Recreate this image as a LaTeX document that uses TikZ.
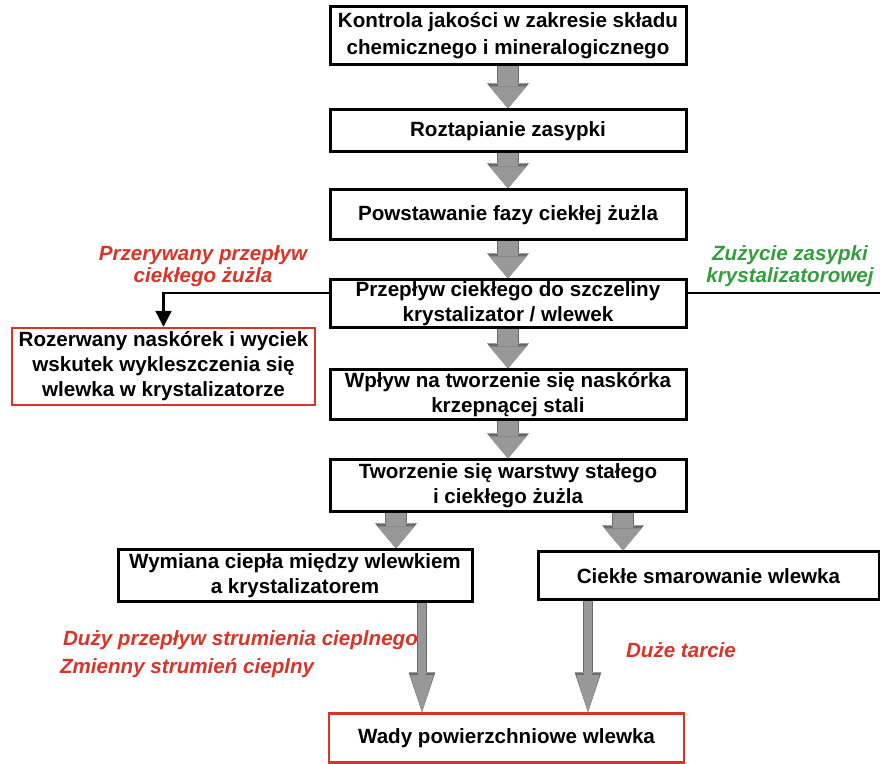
\documentclass[tikz,border=0pt]{standalone}
\usepackage{fontspec}
\setmainfont{Liberation Sans}
\usepackage{tikz}
\usetikzlibrary{positioning, calc, arrows.meta}

\definecolor{slagred}{RGB}{218,52,40}
\definecolor{wornGreen}{RGB}{52,158,62}
\definecolor{arrowgray}{RGB}{152,152,152}
\definecolor{rimgray}{RGB}{105,105,105}

\begin{document}
\begin{tikzpicture}[
  x=0.5pt, y=-0.5pt,
  font=\bfseries\fontsize{10.3}{12.5}\selectfont,
  stage/.style={rectangle, draw, line width=1.5pt, align=center, inner sep=0pt, minimum width=178pt},
  defect/.style={stage, draw=slagred, line width=1.2pt},
  fatrim/.style={rimgray, line width=11.2pt, -{Triangle[width=21pt, length=12.6pt, line width=0pt]}},
  fat/.style={arrowgray, line width=9.6pt, -{Triangle[width=18.6pt, length=11pt, line width=0pt]}},
  slimrim/.style={rimgray, line width=5.4pt, -{Triangle[width=13.4pt, length=20pt, line width=0pt]}},
  slim/.style={arrowgray, line width=4.2pt, -{Triangle[width=11.6pt, length=18.6pt, line width=0pt]}},
  branch/.style={line width=1.1pt},
  note/.style={font=\bfseries\itshape\fontsize{10.3}{11}\selectfont, align=center},
]
\useasboundingbox (0,0) rectangle (880,764);

\node[stage, minimum height=29pt, font=\bfseries\fontsize{10.3}{13.5}\selectfont] (b1) at (508,36) {Kontrola jakości w zakresie składu\\chemicznego i mineralogicznego};
\node[stage, minimum height=21pt] (b2) at (508,131) {Roztapianie zasypki};
\node[stage, minimum height=25pt] (b3) at (508,215) {Powstawanie fazy ciekłej żużla};
\node[stage, minimum height=24pt] (b4) at (508,304) {Przepływ ciekłego do szczeliny\\krystalizator / wlewek};
\node[stage, minimum height=25pt] (b5) at (508,395) {Wpływ na tworzenie się naskórka\\krzepnącej stali};
\node[stage, minimum height=26pt] (b6) at (508,486) {Tworzenie się warstwy stałego\\i ciekłego żużla};
\node[stage, minimum height=26pt, minimum width=177pt] (b7) at (295,576) {Wymiana ciepła między wlewkiem\\a krystalizatorem};
\node[stage, minimum height=24pt, minimum width=170.5pt] (b8) at (708.5,576) {Ciekłe smarowanie wlewka};
\node[defect, minimum height=24.5pt, minimum width=177.5pt] (b9) at (506.5,738) {Wady powierzchniowe wlewka};
\node[defect, minimum height=38.5pt, minimum width=151.5pt] (crack) at (163.5,366.5) {Rozerwany naskórek i wyciek\\wskutek wykleszczenia się\\wlewka w krystalizatorze};

\node[note, slagred] (stop) at (203,266) {Przerywany przepływ\\ciekłego żużla};
\node[note, wornGreen] (wear) at (790,266) {Zużycie zasypki\\krystalizatorowej};
\node[note, slagred, anchor=west] (heatA) at (56,640) {Duży przepływ strumienia cieplnego};
\node[note, slagred, anchor=west] (heatB) at (53,668) {Zmienny strumień cieplny};
\node[note, slagred] (fric) at (681,650) {Duże tarcie};

\foreach \a/\b in {b1/b2, b2/b3, b3/b4, b4/b5, b5/b6} {
  \draw[fatrim] (\a.south) -- (\b.north);
  \draw[fat] (\a.south) -- (\b.north);
}

\coordinate (colL) at (396,0);
\coordinate (colR) at (623,0);
\coordinate (hL) at (422,0);
\coordinate (hR) at (588,0);
\coordinate (edgeR) at (880,0);
\coordinate (lvlL) at ([yshift=5.5pt]b4.west);
\coordinate (lvlR) at ([yshift=5.5pt]b4.east);

\foreach \c/\d in {colL/b7, colR/b8} {
  \draw[fatrim] (b6.south -| \c) -- (\d.north -| \c);
  \draw[fat] (b6.south -| \c) -- (\d.north -| \c);
}
\foreach \c/\d in {hL/b7, hR/b8} {
  \draw[slimrim] (\d.south -| \c) -- (b9.north -| \c);
  \draw[slim] (\d.south -| \c) -- (b9.north -| \c);
}

\draw[branch, -{Triangle[width=8pt, length=8pt]}] (lvlL) -| (crack.north);
\draw[branch] (lvlR) -- (lvlR -| edgeR);
\end{tikzpicture}
\end{document}
